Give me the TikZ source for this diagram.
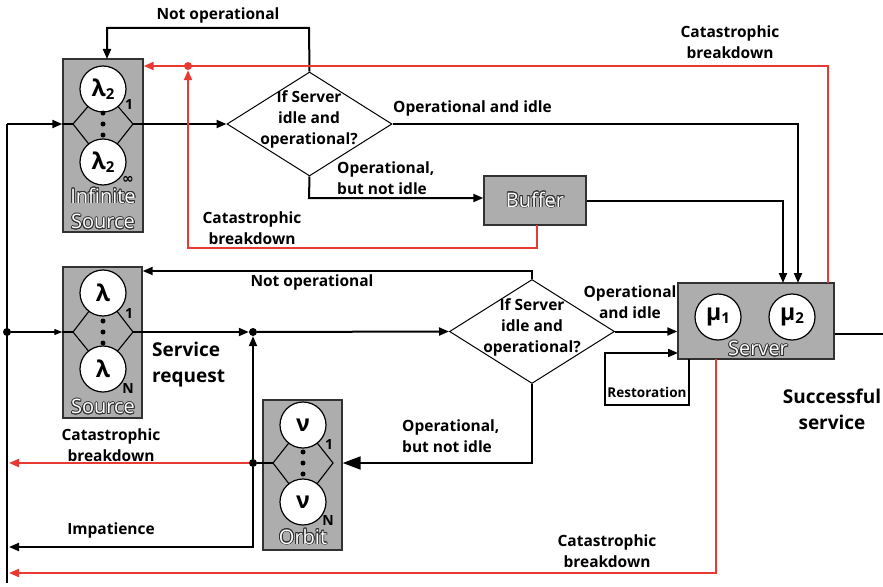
\documentclass[tikz,border=0pt]{standalone}
\usepackage{fontspec}
\setmainfont{Open Sans}
\newfontfamily\symfont{DejaVu Sans}
\usepackage{contour}
\contourlength{0.8pt}
\usetikzlibrary{arrows.meta,shapes.geometric,calc}
\definecolor{cred}{RGB}{232,58,50}
\definecolor{boxgray}{RGB}{173,173,173}
\definecolor{boxline}{RGB}{50,50,50}
\begin{document}
\begin{tikzpicture}[x=1pt,y=-1pt,
  conn/.style={draw=black,line width=2pt},
  redc/.style={draw=cred,line width=2pt},
  arr/.style={-{Triangle[length=10pt,width=8pt]}},
  bigarr/.style={-{Triangle[length=18pt,width=13pt]}},
  smallarr/.style={-{Triangle[length=8pt,width=6pt]}},
  thinl/.style={draw=black,line width=1.1pt},
  gbox/.style={draw=boxline,fill=boxgray,line width=1.4pt,inner sep=0pt},
  circ/.style={circle,draw=black,fill=white,line width=1.2pt,minimum size=46pt,inner sep=0pt,font=\fontsize{23}{23}\selectfont\bfseries},
  decision/.style={diamond,draw=black,line width=1pt,inner sep=0pt,minimum width=165pt,minimum height=104pt},
  lab/.style={font=\fontsize{15.5}{21}\selectfont\bfseries,align=center,inner sep=0pt},
  biglab/.style={font=\fontsize{19}{26}\selectfont\bfseries,align=left,inner sep=0pt},
  smalllab/.style={font=\fontsize{13.5}{16}\selectfont\bfseries,inner sep=0pt},
  idx/.style={font=\fontsize{14}{14}\selectfont\bfseries,inner sep=0pt},
  olab/.style={font=\fontsize{20}{20}\selectfont,inner sep=0pt,text=white},
  jdot/.style={circle,fill=black,minimum size=8pt,inner sep=0pt},
  rdot/.style={circle,fill=cred,minimum size=8pt,inner sep=0pt},
  sdot/.style={circle,fill=black,minimum size=5pt,inner sep=0pt}
]
\useasboundingbox (0,0) rectangle (883,586);

% ---------- Infinite source ----------
\node[gbox,minimum width=80pt,minimum height=173pt] (inf) at (103,145.5) {};
\coordinate (ia) at (73,124);
\coordinate (ib) at (133,124);
\draw[thinl] (ia) -- (103,89) -- (ib) -- (103,162) -- cycle;
\node[circ] (i1) at (103,89) {λ\raisebox{-0.25ex}{\fontsize{15}{15}\selectfont 2}};
\node[circ] (i2) at (103,162) {λ\raisebox{-0.25ex}{\fontsize{15}{15}\selectfont 2}};
\node[sdot] (id1) at (103,113) {};
\node[sdot] (id2) at (103,124) {};
\node[sdot] (id3) at (103,135) {};
\node[idx] (iidx1) at (129,105) {1};
\node[idx] (iidx2) at (128,180) {\symfont ∞};
\node[olab] (inft1) at (103,196) {\contour{boxline}{Infinite}};
\node[olab] (inft2) at (103,222) {\contour{boxline}{Source}};

% ---------- Source ----------
\node[gbox,minimum width=79pt,minimum height=151pt] (src) at (102.5,342.5) {};
\coordinate (sa) at (73,332);
\coordinate (sb) at (133,332);
\draw[thinl] (sa) -- (103,293) -- (sb) -- (103,369) -- cycle;
\node[circ] (s1) at (103,293) {λ};
\node[circ] (s2) at (103,369) {λ};
\node[sdot] (sd1) at (103,321) {};
\node[sdot] (sd2) at (103,332) {};
\node[sdot] (sd3) at (103,343) {};
\node[idx] (sidx1) at (129,313) {1};
\node[idx] (sidx2) at (128,388) {N};
\node[olab] (srct) at (103,407) {\contour{boxline}{Source}};

% ---------- Orbit ----------
\node[gbox,minimum width=79pt,minimum height=150pt] (orb) at (302.5,475) {};
\coordinate (oa) at (273,463);
\coordinate (ob) at (333,463);
\draw[thinl] (oa) -- (303,425) -- (ob) -- (303,502) -- cycle;
\node[circ] (o1) at (303,425) {ν};
\node[circ] (o2) at (303,502) {ν};
\node[sdot] (od1) at (303,452) {};
\node[sdot] (od2) at (303,463) {};
\node[sdot] (od3) at (303,474) {};
\node[idx] (oidx1) at (329,444) {1};
\node[idx] (oidx2) at (328,520) {N};
\node[olab] (orbt) at (303,537) {\contour{boxline}{Orbit}};

% ---------- Buffer ----------
\node[gbox,minimum width=102pt,minimum height=49pt] (buf) at (535,200.5) {};
\node[olab] (buft) at (535,200) {\contour{boxline}{Buffer}};

% ---------- Server ----------
\node[gbox,minimum width=156pt,minimum height=76pt] (srv) at (756,321) {};
\node[circ] (m1) at (718,317) {μ\raisebox{-0.25ex}{\fontsize{15}{15}\selectfont 1}};
\node[circ] (m2) at (792,317) {μ\raisebox{-0.25ex}{\fontsize{15}{15}\selectfont 2}};
\node[olab] (srvt) at (758,349) {\contour{boxline}{Server}};

% ---------- Decisions ----------
\node[decision] (d1) at (309.5,124) {};
\node[lab] (d1t) at (309,119) {If Server\\idle and\\operational?};
\node[decision] (d2) at (532,331.5) {};
\node[lab] (d2t) at (532,327) {If Server\\idle and\\operational?};

% ---------- junctions ----------
\coordinate (lt) at (7,124);
\coordinate (lb) at (7,583);
\node[jdot] (jl) at (7,332) {};
\node[jdot] (jj) at (253,332) {};
\node[jdot] (jk) at (253,463) {};
\node[rdot] (jr) at (188,66) {};
\coordinate (e1) at (9,463);
\coordinate (e2) at (9,547);
\coordinate (e3) at (9,573);
\coordinate (out) at (883,334);

% ---------- black connectors ----------
\draw[conn] (lb) -- (lt);
\draw[conn,arr] (lt) -- (lt -| inf.west);
\draw[thinl] (lt -| inf.west) -- (ia);
\draw[conn,arr] (ib) -- (d1.west);
\draw[conn,arr] (d1.north) -- (309,28) -- (107,28) -- (107,59);
\draw[conn,arr] (d1.east) -- (798,124) -- (798,283);
\draw[conn,arr] (d1.south) -- (309,198) -- (buf.west |- 0,198);
\draw[conn,arr] (buf.east) -- (783,200.5) -- (783,283);
\draw[conn,arr] (d2.north) -- (532,271) -- (src.east |- 0,271);
\draw[thinl,smallarr] (jl) -- (jl -| src.west);
\draw[thinl] (jl -| src.west) -- (sa);
\draw[conn,arr] (sb) -- (jj);
\draw[conn,arr] (jj) -- (d2.west);
\draw[conn,arr] (d2.east) -- (d2.east -| srv.west);
\draw[conn,arr] (689,359) -- (689,405) -- (605,405) -- (605,353) -- (678,353);
\draw[conn] (srv.east |- out) -- (out);
\draw[conn,bigarr] (d2.south) -- (532,463) -- (orb.east |- 0,463);
\draw[thinl] (oa) -- (orb.west |- 0,463);
\draw[conn] (orb.west |- 0,463) -- (jk);
\draw[conn,arr] (jk) -- (jj);
\draw[conn,arr] (jk) -- (253,547) -- (e2);

% ---------- red connectors ----------
\draw[redc,arr] (828,283) -- (828,66) -- (inf.east |- 0,66);
\draw[redc,arr] (537,225) -- (537,248) -- (188,248) -- (jr);
\draw[redc,arr] (jk) -- (e1);
\draw[redc,arr] (716,359) -- (716,573) -- (e3);

% ---------- labels ----------
\node[lab] (l1) at (218,15) {Not operational};
\node[lab] (l2) at (730,42) {Catastrophic\\breakdown};
\node[lab,anchor=west] (l3) at (393,108) {Operational and idle};
\node[lab,anchor=west,align=left] (l4) at (337,178) {Operational,\\but not idle};
\node[lab] (l5) at (252,228) {Catastrophic\\breakdown};
\node[lab] (l6) at (312,282) {Not operational};
\node[lab] (l7) at (630,302) {Operational\\and idle};
\node[biglab,anchor=west] (l8) at (152,365) {Service\\request};
\node[smalllab] (l9) at (647,392) {Restoration};
\node[biglab,align=center] (l10) at (832,409) {Successful\\service};
\node[lab,anchor=west,align=left] (l11) at (402,436) {Operational,\\but not idle};
\node[lab] (l12) at (111,445) {Catastrophic\\breakdown};
\node[lab] (l13) at (111,530) {Impatience};
\node[lab] (l14) at (607,551) {Catastrophic\\breakdown};
\end{tikzpicture}
\end{document}
